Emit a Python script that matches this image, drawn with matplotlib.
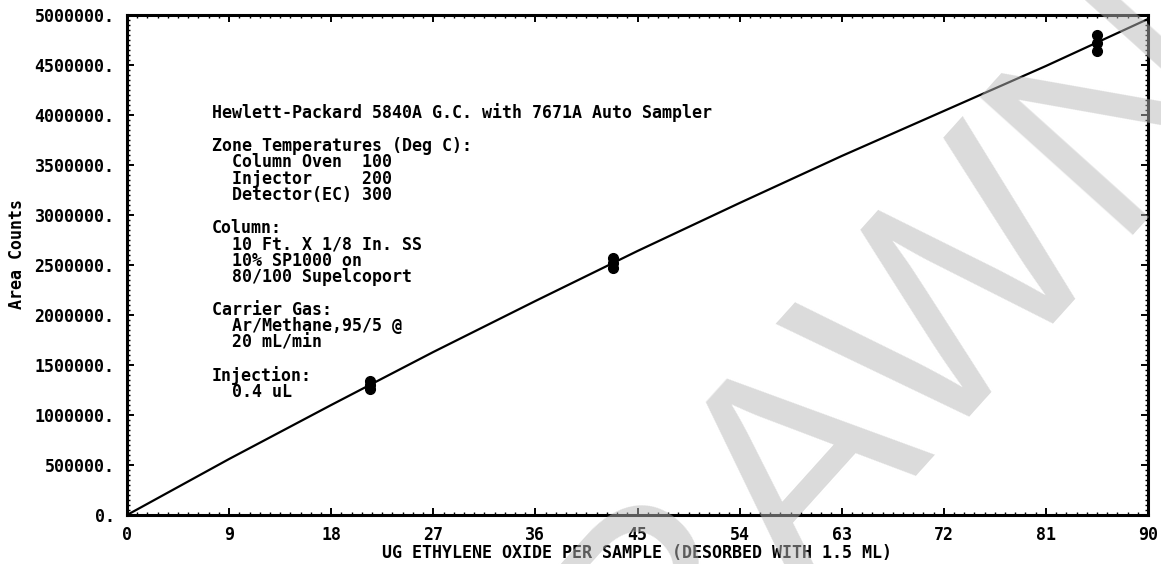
import numpy as np
import matplotlib
matplotlib.use("Agg")
import matplotlib.pyplot as plt
from matplotlib.ticker import MultipleLocator, FuncFormatter

# calibration curve (ug EtO vs area counts)
curve_x = [0, 9, 18, 27, 36, 45, 54, 63, 72, 81, 90]
curve_y = [0, 560000, 1100000, 1630000, 2140000, 2640000, 3120000, 3590000, 4040000, 4490000, 4960000]

# replicate injections at three loadings
std_x = [21.4, 21.4, 21.4, 42.8, 42.8, 42.8, 85.5, 85.5, 85.5]
std_y = [1260000, 1300000, 1340000, 2470000, 2520000, 2570000, 4640000, 4720000, 4800000]

info_lines = [
    "Hewlett-Packard 5840A G.C. with 7671A Auto Sampler",
    "",
    "Zone Temperatures (Deg C):",
    "  Column Oven  100",
    "  Injector     200",
    "  Detector(EC) 300",
    "",
    "Column:",
    "  10 Ft. X 1/8 In. SS",
    "  10% SP1000 on",
    "  80/100 Supelcoport",
    "",
    "Carrier Gas:",
    "  Ar/Methane,95/5 @",
    "  20 mL/min",
    "",
    "Injection:",
    "  0.4 uL",
]

x_label = "UG ETHYLENE OXIDE PER SAMPLE (DESORBED WITH 1.5 ML)"
y_label = "Area Counts"
watermark = "WITHDRAWN"

W, H = 1161, 564
mono = "DejaVu Sans Mono"
fs = 12

fig = plt.figure(figsize=(W / 100, H / 100), dpi=100)
ax = fig.add_axes([127 / W, 1 - 515 / H, (1148 - 127) / W, (515 - 15) / H])

ax.plot(curve_x, curve_y, color="black", lw=1.6, zorder=3)
ax.plot(std_x, std_y, "o", color="black", ms=7, zorder=4)

ax.set_xlim(0, 90)
ax.set_ylim(0, 5000000)
ax.xaxis.set_major_locator(MultipleLocator(9))
ax.xaxis.set_minor_locator(MultipleLocator(0.9))
ax.yaxis.set_major_locator(MultipleLocator(500000))
ax.yaxis.set_minor_locator(MultipleLocator(50000))
ax.yaxis.set_major_formatter(FuncFormatter(lambda v, p: f"{int(round(v))}."))
ax.xaxis.set_major_formatter(FuncFormatter(lambda v, p: f"{int(round(v))}"))

ax.tick_params(which="both", direction="in", top=True, right=True, color="black")
ax.tick_params(which="major", length=5, width=1.4)
ax.tick_params(which="minor", length=2.5, width=1.0)
ax.tick_params(axis="y", which="major", pad=9)
ax.tick_params(axis="x", which="major", pad=8)
for lab in ax.get_xticklabels() + ax.get_yticklabels():
    lab.set_fontfamily(mono)
    lab.set_fontweight("bold")
    lab.set_fontsize(fs)
for sp in ax.spines.values():
    sp.set_linewidth(2.2)

ax.set_xlabel(x_label, family=mono, weight="bold", fontsize=fs, labelpad=0)
fig.text(17 / W, 1 - 254 / H, y_label, family=mono, weight="bold", fontsize=fs,
         rotation=90, ha="center", va="center")

# instrument notes block
top_px, step_px = 113, 16.4
for i, line in enumerate(info_lines):
    if line:
        fig.text(212 / W, 1 - (top_px + i * step_px) / H, line, family=mono,
                 weight="bold", fontsize=fs, ha="left", va="center")

# big grey watermark across the lower right
fig.text(0.545, -0.40, watermark, family="Liberation Sans", fontsize=215,
         color="#b8b8b8", alpha=0.5, rotation=48, rotation_mode="anchor",
         ha="center", va="baseline", zorder=10)

fig.savefig("out.png", dpi=100)
